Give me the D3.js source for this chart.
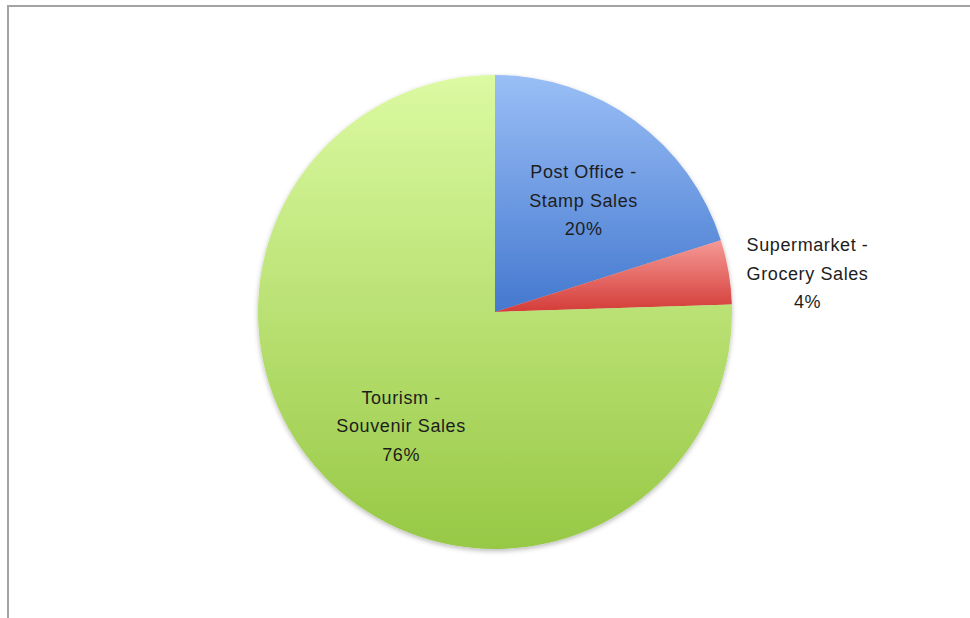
<!DOCTYPE html>
<html>
<head>
<meta charset="utf-8">
<script src="https://cdn.jsdelivr.net/npm/d3@7"></script>
<style>
  body { margin: 0; background: #fff; }
  svg { display: block; }
</style>
</head>
<body>
<svg id="chart"></svg>
<script>
// slice data (clockwise from 12 o'clock)
const categories = ["Post Office - Stamp Sales", "Supermarket - Grocery Sales", "Tourism - Souvenir Sales"];
const labelLines = [["Post Office -", "Stamp Sales"], ["Supermarket -", "Grocery Sales"], ["Tourism -", "Souvenir Sales"]];
const values = [20.1, 4.4, 75.5];
const shownPct = ["20%", "4%", "76%"];
const colorsTop = ["#9abff6", "#f59a96", "#dcfaa2"];
const colorsBottom = ["#4478cf", "#d43c38", "#97c845"];
const outside = [false, true, false];

const width = 970, height = 618;
const cx = 495, cy = 312, radius = 237;

const svg = d3.select("#chart")
  .attr("width", width)
  .attr("height", height);

// chart frame (only top and left edges show in the shot)
svg.append("rect")
  .attr("x", 8).attr("y", 6)
  .attr("width", 1000).attr("height", 700)
  .attr("fill", "#fff")
  .attr("stroke", "#a3a3a3")
  .attr("stroke-width", 2);

const defs = svg.append("defs");
const shadow = defs.append("filter")
  .attr("id", "shadow")
  .attr("x", "-10%").attr("y", "-10%")
  .attr("width", "120%").attr("height", "120%");
shadow.append("feDropShadow")
  .attr("dx", 0).attr("dy", 2)
  .attr("stdDeviation", 2.5)
  .attr("flood-color", "#000")
  .attr("flood-opacity", 0.28);

categories.forEach(function(c, i) {
  let g = defs.append("linearGradient")
    .attr("id", "grad" + i)
    .attr("x1", 0).attr("y1", 0)
    .attr("x2", 0).attr("y2", 1);
  g.append("stop").attr("offset", "0%").attr("stop-color", colorsTop[i]);
  g.append("stop").attr("offset", "100%").attr("stop-color", colorsBottom[i]);
});

const pie = d3.pie().sort(null).value(d => d.value);
const arc = d3.arc().innerRadius(0).outerRadius(radius);
const labelArc = d3.arc().innerRadius(145).outerRadius(145);
const outerArc = d3.arc().innerRadius(radius).outerRadius(radius);

const data = categories.map((c, i) => ({name: c, value: values[i], i: i}));
const arcs = pie(data);

const pieG = svg.append("g")
  .attr("transform", `translate(${cx},${cy})`)
  .attr("filter", "url(#shadow)");

pieG.selectAll("path")
  .data(arcs)
  .enter().append("path")
  .attr("d", arc)
  .attr("fill", d => `url(#grad${d.data.i})`);

const lineH = 28.5;
const labels = svg.append("g")
  .attr("transform", `translate(${cx},${cy})`);

arcs.forEach(function(d) {
  let i = d.data.i;
  let lines = labelLines[i].concat([shownPct[i]]);
  let t = labels.append("text")
    .attr("text-anchor", "middle")
    .style("font-family", "'Liberation Sans', Arial, sans-serif")
    .style("font-size", "18px")
    .style("letter-spacing", "0.6px")
    .attr("fill", "#1d1d1d");
  lines.forEach(function(l, k) {
    t.append("tspan").attr("x", 0).attr("y", (k - 1) * lineH + 7).text(l);
  });
  let pos;
  if (outside[i]) {
    let p = outerArc.centroid(d);
    let w = d3.max(t.selectAll("tspan").nodes(), n => n.getComputedTextLength());
    pos = [p[0] + 18 + w / 2, p[1] + 1];
  } else {
    pos = labelArc.centroid(d);
    pos = [pos[0] + 3, pos[1] + 5];
    if (d.data.i === 2) pos = [pos[0] + 4, pos[1] + 4];
  }
  t.attr("transform", `translate(${pos[0]},${pos[1]})`);
});
</script>
</body>
</html>
